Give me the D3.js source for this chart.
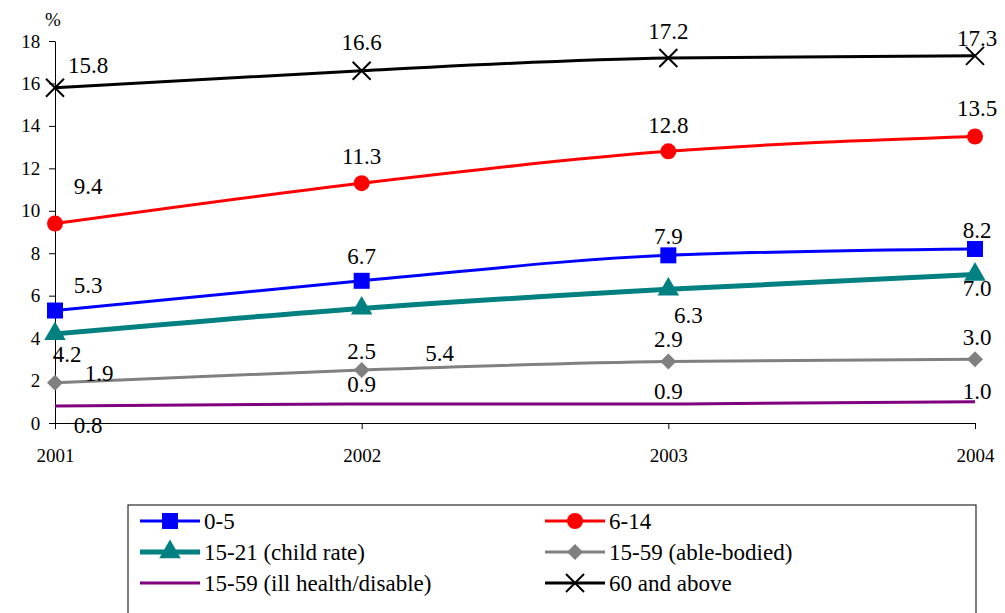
<!DOCTYPE html>
<html><head><meta charset="utf-8">
<script src="https://cdn.jsdelivr.net/npm/d3@7"></script>
<style>body{margin:0;background:#fff}</style>
</head><body><svg id="c" width="1005" height="613"></svg>
<script>
const years = [2001, 2002, 2003, 2004];
const yTicks = [0, 2, 4, 6, 8, 10, 12, 14, 16, 18];
const seriesNames = ["0-5", "6-14", "15-21 (child rate)", "15-59 (able-bodied)", "15-59 (ill health/disable)", "60 and above"];
const v05 = [5.3, 6.7, 7.9, 8.2];
const v614 = [9.4, 11.3, 12.8, 13.5];
const v1521 = [4.2, 5.4, 6.3, 7.0];
const v1559a = [1.9, 2.5, 2.9, 3.0];
const v1559i = [0.8, 0.9, 0.9, 1.0];
const v60 = [15.8, 16.6, 17.2, 17.3];

const FONT = "Liberation Serif";

// styling: colour, width, marker, label offsets [dx,dy] per point
const styles = [
  {color:"#0000ff", w:3, m:"square", off:[[33,-26],[0,-25],[0,-19],[2,-19]]},
  {color:"#ff0000", w:3, m:"circle", off:[[33,-38],[0,-27],[0,-26],[2,-29]]},
  {color:"#008080", w:5, m:"tri", off:[[12,20],[78,45],[20,26],[2,14]]},
  {color:"#808080", w:3, m:"diamond", off:[[44,-10],[0,-19],[0,-22],[2,-22]]},
  {color:"#800080", w:3, m:"none", off:[[33,19],[0,-20],[0,-13],[2,-11]]},
  {color:"#000000", w:3, m:"x", off:[[33,-23],[0,-29],[0,-27],[2,-18]]}
];
const data = [v05, v614, v1521, v1559a, v1559i, v60];

const svg = d3.select("#c");
const x = d3.scaleLinear().domain([2001, 2004]).range([55, 975]);
const y = d3.scaleLinear().domain([0, 18]).range([423, 41]);

svg.append("g").attr("transform","translate(0,423)")
  .call(d3.axisBottom(x).tickValues(years).tickFormat(d3.format("d")).tickSize(6))
  .call(g=>g.selectAll("text").style("font-family",FONT).style("font-size","19px").attr("fill","#000").attr("dy","1.6em"))
  .call(g=>g.selectAll("line,path").attr("stroke","#000"));
svg.append("g").attr("transform","translate(55,0)")
  .call(d3.axisLeft(y).tickValues(yTicks).tickSize(6).tickSizeOuter(0))
  .call(g=>g.selectAll("text").style("font-family",FONT).style("font-size","19px").attr("fill","#000").attr("dx","-0.3em"))
  .call(g=>g.selectAll("line,path").attr("stroke","#000"));
svg.append("text").attr("x",45).attr("y",26).style("font-family",FONT).style("font-size","19px").text("%");

function marker(g, type, color, cx, cy) {
  if (type === "square") g.append("rect").attr("x",cx-8).attr("y",cy-8).attr("width",16).attr("height",16).attr("fill",color);
  else if (type === "circle") g.append("circle").attr("cx",cx).attr("cy",cy).attr("r",8).attr("fill",color);
  else if (type === "tri") g.append("path").attr("d",d3.symbol(d3.symbolTriangle, 200)()).attr("transform",`translate(${cx},${cy})`).attr("fill",color);
  else if (type === "diamond") g.append("path").attr("d",`M${cx},${cy-8}L${cx+8},${cy}L${cx},${cy+8}L${cx-8},${cy}Z`).attr("fill",color);
  else if (type === "x") g.append("path").attr("d",`M${cx-9},${cy-9}L${cx+9},${cy+9}M${cx+9},${cy-9}L${cx-9},${cy+9}`).attr("stroke",color).attr("stroke-width",2);
}

const line = d3.line().x((d,i)=>x(years[i])).y(d=>y(d)).curve(d3.curveMonotoneX);
data.forEach((vals, k) => {
  const st = styles[k];
  const g = svg.append("g");
  g.append("path").attr("d", line(vals)).attr("fill","none").attr("stroke",st.color).attr("stroke-width",st.w);
  vals.forEach((v,i)=>marker(g, st.m, st.color, x(years[i]), y(v)));
  vals.forEach((v,i)=>g.append("text").attr("x",x(years[i])+st.off[i][0]).attr("y",y(v)+st.off[i][1]+8)
    .attr("text-anchor","middle").style("font-family",FONT).style("font-size","23px").text(d3.format(".1f")(v)));
});

// legend
const lg = svg.append("g");
lg.append("rect").attr("x",128).attr("y",505).attr("width",848).attr("height",120).attr("fill","#fff").attr("stroke","#000");
seriesNames.forEach((n,k)=>{
  const col = k%2, row = Math.floor(k/2);
  const lx = col ? 545 : 140, ly = 521 + row*31;
  const st = styles[k];
  lg.append("line").attr("x1",lx).attr("x2",lx+60).attr("y1",ly).attr("y2",ly).attr("stroke",st.color).attr("stroke-width",st.w);
  marker(lg, st.m, st.color, lx+30, ly);
  lg.append("text").attr("x",lx+64).attr("y",ly+8).style("font-family",FONT).style("font-size","23px").text(n);
});
</script></body></html>
